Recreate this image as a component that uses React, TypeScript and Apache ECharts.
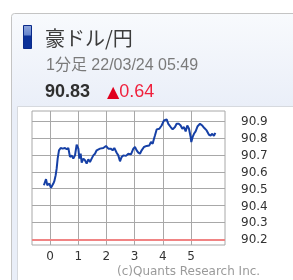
import React, { useEffect, useRef } from "react";
import * as echarts from "echarts";

const titleText = "豪ドル/円";
const subtitleText = "1分足 22/03/24 05:49";
const priceText = "90.83";
const changeText = "0.64";
const creditText = "(c)Quants Research Inc.";

// minutes from 00:00
const minutes = [
  -13, -8.5, -5.7, -1.4, 2.1, 7.1, 9.2, 12.1, 14.2, 16.3, 19.1, 22.7, 26.9, 31.9, 35.5, 39,
  42.5, 46.1, 49.6, 53.2, 56.7, 60.3, 62.4, 65.2, 67.4, 70.9, 74.4, 78, 81.5, 85.1, 88.6,
  92.2, 95.7, 99.3, 106.4, 113.4, 119.1, 124.1, 129, 133.3, 136.8, 141.8, 145.3, 148.9,
  152.4, 156, 161.7, 166.6, 172.3, 177.3, 180.8, 184.3, 187.9, 191.4, 195, 199.9, 205.6,
  211.3, 214.8, 218.4, 221.2, 223.3, 226.9, 232.6, 237.5, 242.5, 248.2, 251.7, 256.7,
  260.9, 265.9, 269.4, 274.4, 277.9, 281.5, 285, 288.6, 292.1, 295.7, 299.2, 300.6, 303.5,
  306.3, 309.8, 314.1, 319.1, 324, 328.3, 333.2, 338.2, 341.7, 345.3, 348.8, 351.7,
];
const prices = [
  90.52, 90.556, 90.52, 90.53, 90.505, 90.53, 90.544, 90.58, 90.62, 90.678, 90.727, 90.741,
  90.737, 90.741, 90.733, 90.741, 90.688, 90.697, 90.678, 90.697, 90.76, 90.737, 90.678,
  90.707, 90.654, 90.678, 90.668, 90.648, 90.674, 90.658, 90.678, 90.697, 90.707, 90.727,
  90.737, 90.741, 90.753, 90.737, 90.737, 90.727, 90.741, 90.713, 90.697, 90.662, 90.688,
  90.697, 90.694, 90.707, 90.703, 90.737, 90.747, 90.727, 90.713, 90.707, 90.727, 90.747,
  90.753, 90.756, 90.776, 90.766, 90.796, 90.815, 90.851, 90.855, 90.874, 90.904, 90.91,
  90.884, 90.865, 90.851, 90.865, 90.884, 90.884, 90.874, 90.855, 90.865, 90.839, 90.874,
  90.855, 90.806, 90.776, 90.806, 90.825, 90.839, 90.87, 90.884, 90.874, 90.859, 90.845,
  90.819, 90.815, 90.825, 90.812, 90.831,
];
const baseLine = 90.2;
const yTicks = [90.2, 90.3, 90.4, 90.5, 90.6, 90.7, 90.8, 90.9];
const xTicks = [0, 60, 120, 180, 240, 300];

export default function App() {
  const ref = useRef<HTMLDivElement>(null);
  useEffect(() => {
    const chart = echarts.init(ref.current!, null, { renderer: "svg" });
    const labelFont = "'DejaVu Sans', Verdana, sans-serif";
    chart.setOption({
      animation: false,
      graphic: [
        {
          type: "rect",
          z: -10,
          shape: { x: 11.5, y: 13.5, width: 300, height: 300, r: 3 },
          style: {
            fill: new echarts.graphic.LinearGradient(0, 0, 0, 1, [
              { offset: 0, color: "#f8fafd" },
              { offset: 0.33, color: "#e9eef8" },
              { offset: 1, color: "#e9eef8" },
            ]),
            stroke: "#c4c4c4",
            lineWidth: 1,
          },
        },
        {
          type: "rect",
          z: -9,
          shape: { x: 17.5, y: 106.5, width: 300, height: 200 },
          style: { fill: "#ffffff", stroke: "#d6d9de", lineWidth: 1 },
        },
        {
          type: "rect",
          shape: { x: 23.5, y: 25.5, width: 8, height: 23 },
          style: {
            fill: new echarts.graphic.LinearGradient(0, 0, 0, 1, [
              { offset: 0, color: "#8fa6dc" },
              { offset: 0.42, color: "#6584cc" },
              { offset: 0.45, color: "#0b3199" },
              { offset: 1, color: "#0b3199" },
            ]),
            stroke: "#0a2a8a",
            lineWidth: 1,
          },
        },
        {
          type: "text",
          style: {
            x: 45,
            y: 37,
            text: titleText,
            fill: "#3c3c3c",
            font: "20px 'Noto Sans CJK JP', sans-serif",
            verticalAlign: "middle",
          },
        },
        {
          type: "text",
          style: {
            x: 46,
            y: 64,
            text: subtitleText,
            fill: "#7a7a7a",
            font: "16px 'Liberation Sans', 'Noto Sans CJK JP', sans-serif",
            verticalAlign: "middle",
          },
        },
        {
          type: "text",
          style: {
            x: 45,
            y: 91,
            text: priceText,
            fill: "#2e2e2e",
            font: "bold 18px 'Liberation Sans', Arial, sans-serif",
            verticalAlign: "middle",
          },
        },
        {
          type: "text",
          style: {
            x: 107,
            y: 91,
            text: "{t|▲}{n|" + changeText + "}",
            verticalAlign: "middle",
            rich: {
              t: { fill: "#e0001e", font: "16px 'DejaVu Sans', sans-serif" },
              n: { fill: "#f0203c", font: "18px 'Liberation Sans', Arial, sans-serif" },
            },
          },
        },
        {
          type: "text",
          style: {
            x: 117,
            y: 271,
            text: creditText,
            fill: "#9a9a9a",
            font: "12px " + labelFont,
            verticalAlign: "middle",
          },
        },
      ],
      grid: {
        left: 32,
        top: 111,
        width: 193,
        height: 134,
        show: true,
        borderColor: "#a8a8a8",
        borderWidth: 1,
        backgroundColor: "transparent",
      },
      xAxis: {
        type: "value",
        min: -38.3,
        max: 372.3,
        axisLine: { show: false },
        axisTick: { show: false, customValues: xTicks },
        axisLabel: {
          customValues: xTicks,
          formatter: (v: number) => String(Math.round(v / 60)),
          color: "#333",
          fontFamily: labelFont,
          fontSize: 12,
          margin: 5,
        },
        splitLine: { show: true, lineStyle: { color: "#a8a8a8", width: 1 } },
      },
      yAxis: {
        type: "value",
        position: "right",
        min: 90.166,
        max: 90.96,
        axisLine: { show: false },
        axisTick: {
          show: true,
          customValues: yTicks,
          length: 8,
          lineStyle: { color: "#a8a8a8" },
        },
        axisLabel: {
          customValues: yTicks,
          formatter: (v: number) => v.toFixed(1),
          color: "#333",
          fontFamily: labelFont,
          fontSize: 12,
          margin: 16,
        },
        splitLine: { show: true, lineStyle: { color: "#a8a8a8", width: 1 } },
      },
      series: [
        {
          type: "line",
          data: minutes.map((m, i) => [m, prices[i]]),
          showSymbol: false,
          lineStyle: { color: "#1640a6", width: 2 },
          markLine: {
            silent: true,
            symbol: "none",
            label: { show: false },
            lineStyle: { color: "#f08484", width: 2, type: "solid" },
            data: [{ yAxis: baseLine }],
          },
        },
      ],
    });
    return () => chart.dispose();
  }, []);
  return (
    <div
      ref={ref}
      style={{ position: "fixed", left: 0, top: 0, width: 293, height: 280 }}
    />
  );
}
